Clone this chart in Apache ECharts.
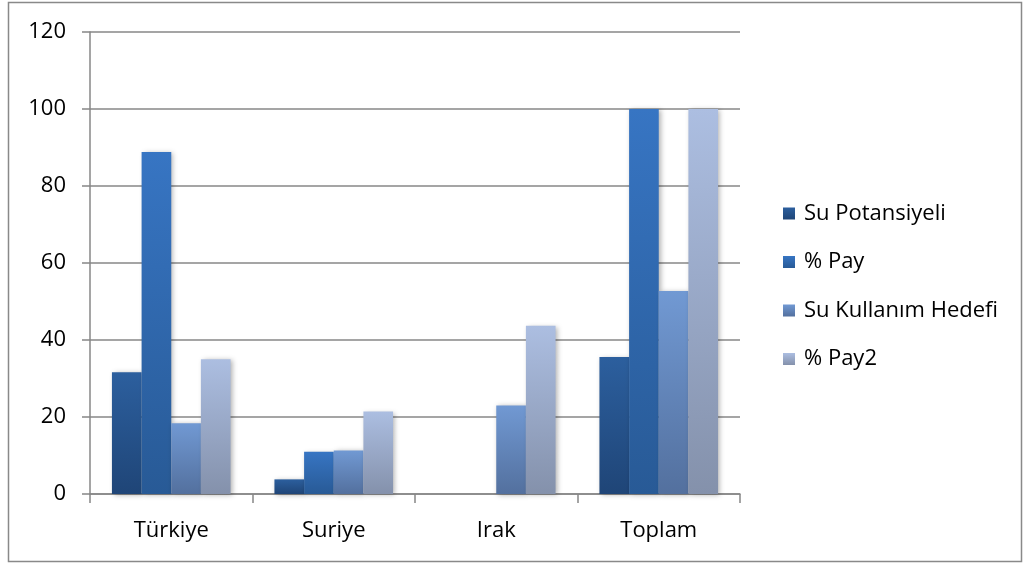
<!DOCTYPE html>
<html><head><meta charset="utf-8">
<script src="https://cdn.jsdelivr.net/npm/echarts@6/dist/echarts.min.js"></script>
<style>html,body{margin:0;padding:0;background:#fff}#c{width:1024px;height:565px}</style>
</head><body><div id="c"></div>
<script>
var categories = ['Türkiye', 'Suriye', 'Irak', 'Toplam'];
var seriesNames = ['Su Potansiyeli', '% Pay', 'Su Kullanım Hedefi', '% Pay2'];
var suPotansiyeli = [31.6, 3.8, 0, 35.6];
var pay = [88.8, 11.0, 0, 100];
var suKullanimHedefi = [18.4, 11.3, 23.0, 52.7];
var pay2 = [35.0, 21.4, 43.7, 100];
var yTicks = [0, 20, 40, 60, 80, 100, 120];

var values = [suPotansiyeli, pay, suKullanimHedefi, pay2];
var grads = [['#2c5f9e', '#1f4577'], ['#3775c3', '#285a96'], ['#7199d3', '#53709e'], ['#acbee1', '#8491ab']];
var font = '"Open Sans", sans-serif';

var chart = echarts.init(document.getElementById('c'));
chart.setOption({
  animation: false,
  backgroundColor: '#fff',
  graphic: [{type: 'rect', shape: {x: 8.5, y: 2.5, width: 1013, height: 559}, style: {fill: 'none', stroke: '#898989', lineWidth: 1.5}, z: -1}],
  grid: {left: 90, right: 284, top: 32, bottom: 71},
  legend: {
    orient: 'vertical', left: 778, top: 196,
    itemWidth: 12, itemHeight: 12, itemGap: 23.5,
    icon: 'rect',
    textStyle: {fontFamily: font, fontSize: 22, color: '#000', lineHeight: 25, padding: [0, 0, 0, 4]},
    data: seriesNames
  },
  xAxis: {
    type: 'category', data: categories,
    axisLine: {lineStyle: {color: '#878787', width: 1.5}},
    axisTick: {show: true, length: 9, lineStyle: {color: '#878787', width: 1.5}},
    axisLabel: {fontFamily: font, fontSize: 22, color: '#000', margin: 26}
  },
  yAxis: {
    type: 'value', min: 0, max: 120, interval: 20,
    axisLine: {show: true, lineStyle: {color: '#878787', width: 1.5}},
    axisTick: {show: true, length: 8, lineStyle: {color: '#878787', width: 1.5}},
    splitLine: {lineStyle: {color: '#878787', width: 1.5}},
    axisLabel: {fontFamily: font, fontSize: 22, color: '#000', margin: 24,
      formatter: function (v) { return yTicks.indexOf(v) >= 0 ? String(v) : ''; }}
  },
  series: seriesNames.map(function (n, i) {
    return {
      name: n, type: 'bar', data: values[i],
      barGap: '0%', barCategoryGap: '27%',
      itemStyle: {
        color: new echarts.graphic.LinearGradient(0, 0, 0, 1, [{offset: 0, color: grads[i][0]}, {offset: 1, color: grads[i][1]}]),
        shadowColor: 'rgba(0,0,0,0.3)', shadowBlur: 5, shadowOffsetX: 2, shadowOffsetY: 1
      }
    };
  })
});
</script></body></html>
